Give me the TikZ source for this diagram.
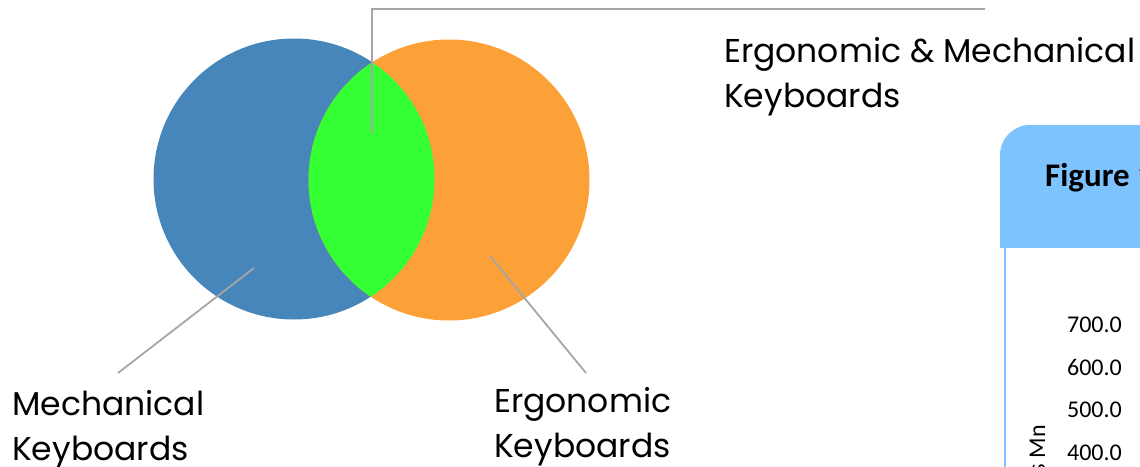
\documentclass[tikz,border=0pt]{standalone}
\usepackage{fontspec}
\setmainfont{Poppins}
\newfontfamily\figfont{Carlito}
\usetikzlibrary{positioning}
\definecolor{mechblue}{RGB}{70,134,187}
\definecolor{ergoorange}{RGB}{252,160,56}
\definecolor{bothgreen}{RGB}{51,255,51}
\definecolor{leadgray}{RGB}{166,166,166}
\definecolor{figblue}{RGB}{125,196,255}
\tikzset{
  setcircle/.style={circle, minimum size=281pt, inner sep=0pt},
  venntext/.style={anchor=base west, inner sep=0pt, font=\fontsize{33}{39}\selectfont},
  leader/.style={draw=leadgray, line width=1.8pt},
  ticktext/.style={anchor=base east, inner sep=0pt, font=\figfont\fontsize{24}{29}\selectfont}
}

\begin{document}
\begin{tikzpicture}[x=1pt, y=-1pt]
                \clip (0,0) rectangle (1140,466);
                \node [setcircle, fill=mechblue] (mech) at (294,179) {};
                \node [setcircle, fill=ergoorange] (ergo) at (449,180) {};
                \begin{scope}
                    \clip (mech.center) circle (140.5pt);
                    \fill [bothgreen] (ergo.center) circle (140.5pt);
                \end{scope}
                \node [venntext] (bothtext) at (724,62) {Ergonomic \& Mechanical};
                \node [venntext, below=45pt of bothtext.base west, anchor=base west] (bothtext2) {Keyboards};
                \node [venntext] (mechtext) at (12,415) {Mechanical};
                \node [venntext, below=45pt of mechtext.base west, anchor=base west] (mechtext2) {Keyboards};
                \node [venntext] (ergotext) at (494,412) {Ergonomic};
                \node [venntext, below=45pt of ergotext.base west, anchor=base west] (ergotext2) {Keyboards};
                \coordinate (bothtip) at (372,133);
                \coordinate (bothend) at (985,9);
                \coordinate (mechtip) at (254,268);
                \coordinate (mechend) at (118,373);
                \coordinate (ergotip) at (490,256);
                \coordinate (ergoend) at (586,373);
                \draw [leader] (bothtip) |- (bothend);
                \draw [leader] (mechtip) -- (mechend);
                \draw [leader] (ergotip) -- (ergoend);
                \fill [figblue, rounded corners=30pt] (1000,125) rectangle (1200,320);
                \fill [white] (1000,248) rectangle (1200,470);
                \draw [figblue, line width=1.5pt] (1005,248) -- (1005,470);
                \node [anchor=base west, inner sep=0pt, font=\figfont\bfseries\fontsize{33}{39}\selectfont] (figtitle) at (1045,186) {Figure 1};
                \foreach \val/\y [count=\i] in {700.0/332, 600.0/375, 500.0/417, 400.0/460}
                    \node [ticktext] (tick\i) at (1122,\y) {\val};
                \node [ticktext, rotate=90] (unit) at (1045,425) {\$ Mn};
            \end{tikzpicture}
\end{document}
